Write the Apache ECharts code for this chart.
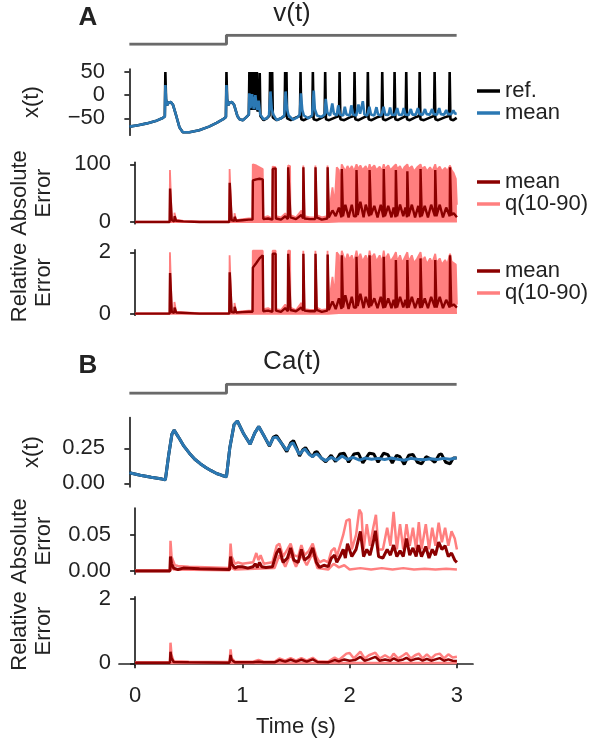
<!DOCTYPE html>
<html><head><meta charset="utf-8">
<script src="https://cdn.jsdelivr.net/npm/echarts@6/dist/echarts.min.js"></script>
<style>html,body{margin:0;padding:0;background:#fff}#c{width:590px;height:740px}</style>
</head><body><div id="c"></div>
<script>
// ---------------- data ----------------
const xTicks = [0, 1, 2, 3];
const vTicks = [-50, 0, 50];
const absTicksA = [0, 100];
const relTicks = [0, 2];
const caTicks = [0, 0.25];
const caAbsTicks = [0, 0.05];

const stepT = [0, 0.89, 0.89, 3];
const stepV = [0, 0, 1, 1];

const vRef = [[0,-68],[0.08,-65],[0.16,-61],[0.24,-56],[0.30,-50],[0.325,-46],[0.33,50],[0.336,-8],[0.345,-22],[0.36,-16],[0.38,-15],[0.40,-21],[0.43,-45],[0.46,-70],[0.49,-80],[0.55,-80],[0.64,-76],[0.73,-68],[0.80,-60],[0.86,-52],[0.885,-47],[0.89,50],[0.896,-8],[0.905,-22],[0.92,-16],[0.94,-15],[0.96,-21],[0.99,-45],
[1.01,-52],[1.04,-54],[1.07,-48],[1.095,-42],[1.10,50],[1.106,-32],[1.118,-28],[1.123,50],[1.129,-32],[1.141,-28],[1.146,50],[1.152,-32],[1.164,-28],[1.169,50],[1.175,-35],[1.19,-30],[1.195,48],[1.201,-45],[1.23,-54],[1.26,-50],[1.285,-44],[1.29,50],[1.296,-34],[1.305,-32],[1.309,50],[1.315,-48],[1.35,-54],[1.39,-50],[1.423,-45],[1.428,50],[1.434,-38],[1.44,50],[1.446,-50],[1.48,-54],[1.53,-48],[1.564,-45],[1.569,50],[1.576,-52],[1.60,-54],[1.65,-48],[1.677,-45],[1.682,50],[1.689,-52],[1.72,-54],[1.77,-48],[1.79,-45],[1.795,50],[1.802,-52],[1.83,-54],[1.89,-48],[1.922,-45],[1.927,50],[1.934,-52],[1.97,-54],[2.02,-48],[2.059,-45],[2.064,50],[2.071,-52],[2.10,-54],[2.15,-48],[2.181,-45],[2.186,50],[2.193,-52],[2.22,-54],[2.27,-48],[2.313,-45],[2.318,50],[2.325,-52],[2.35,-54],[2.40,-48],[2.426,-45],[2.431,50],[2.438,-52],[2.46,-54],[2.51,-48],[2.533,-45],[2.538,50],[2.545,-52],[2.57,-54],[2.62,-48],[2.656,-45],[2.661,50],[2.668,-52],[2.70,-54],[2.76,-48],[2.793,-45],[2.798,50],[2.805,-52],[2.83,-54],[2.89,-48],[2.931,-45],[2.936,50],[2.943,-52],[2.97,-54],[3.0,-49]];

const vMean = [[0,-68],[0.08,-65],[0.16,-61],[0.24,-56],[0.30,-50],[0.325,-46],[0.33,22],[0.336,-8],[0.345,-22],[0.36,-16],[0.38,-15],[0.40,-21],[0.43,-45],[0.46,-70],[0.49,-80],[0.55,-80],[0.64,-76],[0.73,-68],[0.80,-60],[0.86,-52],[0.885,-47],[0.89,22],[0.896,-8],[0.905,-22],[0.92,-16],[0.94,-15],[0.96,-21],[0.99,-45],
[1.01,-52],[1.04,-54],[1.07,-48],[1.095,-42],[1.10,4],[1.11,-28],[1.125,2],[1.14,-30],[1.155,0],[1.17,-32],[1.185,-12],[1.20,-42],[1.23,-52],[1.26,-50],[1.28,-44],[1.293,8],[1.305,-30],[1.32,-42],[1.35,-54],[1.39,-50],[1.42,-44],[1.432,8],[1.445,-30],[1.46,-44],[1.50,-53],[1.54,-48],[1.562,-42],[1.572,4],[1.585,-32],[1.60,-44],[1.64,-50],[1.675,-44],[1.69,10],[1.70,-30],[1.72,-44],[1.76,-47],[1.79,-42],[1.80,-8],[1.815,-38],[1.84,-44],[1.86,-18],[1.875,-40],[1.90,-44],[1.915,-22],[1.93,-42],[1.96,-44],[1.975,-25],[1.99,-42],[2.02,-44],[2.035,-22],[2.05,-42],[2.08,-44],[2.10,-20],[2.115,-40],[2.14,-13],[2.155,-42],[2.18,-44],[2.20,-25],[2.215,-42],[2.245,-44],[2.265,-26],[2.28,-42],[2.31,-44],[2.33,-25],[2.345,-42],[2.375,-43],[2.39,-27],[2.405,-42],[2.435,-43],[2.455,-28],[2.47,-42],[2.50,-43],[2.515,-28],[2.53,-42],[2.56,-43],[2.58,-30],[2.595,-42],[2.625,-42],[2.645,-28],[2.66,-41],[2.69,-42],[2.71,-30],[2.725,-41],[2.755,-42],[2.775,-30],[2.79,-41],[2.82,-42],[2.84,-28],[2.855,-41],[2.885,-42],[2.905,-32],[2.92,-41],[2.95,-41],[2.97,-33],[2.985,-40],[3.0,-39]];

const vAbsMean = [[0,0],[0.322,0],[0.326,58],[0.338,58],[0.342,3],[0.365,1],[0.368,10],[0.378,10],[0.382,2],[0.45,1],[0.6,0],[0.878,0],[0.882,68],[0.896,68],[0.9,3],[0.925,2],[0.928,9],[0.938,9],[0.942,2],[1.0,3],[1.06,4],[1.095,4],[1.098,72],[1.13,74],[1.16,75],[1.19,74],[1.195,5],[1.24,6],[1.28,4],[1.283,92],[1.31,93],[1.313,6],[1.36,4],[1.40,10],[1.424,5],[1.427,95],[1.445,95],[1.448,8],[1.50,5],[1.55,12],[1.566,6],[1.569,95],[1.575,95],[1.578,6],[1.63,5],[1.679,5],[1.682,95],[1.69,95],[1.693,8],[1.74,4],[1.792,6],[1.795,95],[1.803,95],[1.806,8],[1.84,20],[1.87,10],[1.90,25],[1.924,8],[1.927,92],[1.935,92],[1.938,10],[1.96,30],[1.99,8],[2.02,30],[2.04,10],[2.061,10],[2.064,90],[2.072,90],[2.075,12],[2.10,35],[2.13,8],[2.15,30],[2.183,10],[2.186,90],[2.196,90],[2.199,12],[2.23,28],[2.26,8],[2.29,30],[2.315,8],[2.318,92],[2.326,92],[2.329,10],[2.36,28],[2.39,8],[2.41,25],[2.428,8],[2.431,90],[2.439,90],[2.442,10],[2.47,30],[2.50,10],[2.52,25],[2.535,8],[2.538,88],[2.546,88],[2.549,10],[2.58,30],[2.61,8],[2.64,28],[2.658,8],[2.661,92],[2.669,92],[2.672,10],[2.70,28],[2.73,8],[2.76,30],[2.795,10],[2.798,90],[2.806,90],[2.809,10],[2.84,30],[2.87,8],[2.90,25],[2.933,10],[2.936,95],[2.944,95],[2.947,12],[2.97,15],[3.0,8]];

const vAbsQ90 = [[0,0.5],[0.322,0.5],[0.325,90],[0.338,88],[0.342,5],[0.365,3],[0.367,16],[0.38,15],[0.383,4],[0.45,2],[0.6,1],[0.878,1],[0.881,92],[0.895,90],[0.9,5],[0.925,4],[0.927,15],[0.94,14],[0.943,3],[1.0,5],[1.06,6],[1.094,6],[1.097,100],[1.13,98],[1.16,95],[1.19,92],[1.195,8],[1.24,10],[1.28,6],[1.282,96],[1.31,95],[1.313,10],[1.36,8],[1.40,15],[1.423,8],[1.426,98],[1.445,97],[1.448,12],[1.50,8],[1.55,20],[1.565,8],[1.568,98],[1.576,97],[1.58,10],[1.63,8],[1.678,8],[1.681,98],[1.69,97],[1.694,12],[1.74,8],[1.791,10],[1.794,98],[1.803,97],[1.806,15],[1.84,60],[1.86,30],[1.88,95],[1.90,90],[1.91,60],[1.926,100],[1.94,95],[1.96,88],[1.98,97],[2.0,90],[2.02,97],[2.04,88],[2.064,100],[2.08,92],[2.10,98],[2.12,90],[2.15,97],[2.17,88],[2.186,100],[2.20,92],[2.23,98],[2.25,90],[2.28,96],[2.30,88],[2.318,100],[2.33,92],[2.36,98],[2.38,90],[2.41,96],[2.431,100],[2.445,92],[2.47,97],[2.49,88],[2.51,95],[2.538,100],[2.55,92],[2.58,97],[2.60,88],[2.63,95],[2.661,100],[2.675,92],[2.70,96],[2.72,88],[2.75,95],[2.77,88],[2.798,100],[2.81,90],[2.84,96],[2.86,88],[2.89,94],[2.91,88],[2.936,98],[2.95,90],[2.97,85],[2.99,75],[3.0,30]];

const vAbsQ10 = [[0,0],[1.8,0],[1.9,1],[3.0,1]];

const vRelMean = [[0,0],[0.322,0],[0.326,1.32],[0.338,1.32],[0.342,0.05],[0.365,0.03],[0.368,0.2],[0.378,0.2],[0.382,0.04],[0.6,0],[0.878,0],[0.882,1.35],[0.896,1.35],[0.9,0.05],[0.925,0.04],[0.928,0.22],[0.938,0.22],[0.942,0.04],[1.0,0.05],[1.06,0.06],[1.095,0.06],[1.098,1.5],[1.13,1.65],[1.16,1.8],[1.19,1.9],[1.195,0.08],[1.24,0.1],[1.28,0.06],[1.283,1.95],[1.31,1.95],[1.313,0.1],[1.36,0.06],[1.40,0.18],[1.424,0.08],[1.427,1.95],[1.445,1.95],[1.448,0.12],[1.50,0.08],[1.55,0.2],[1.566,0.1],[1.569,1.95],[1.575,1.95],[1.578,0.1],[1.63,0.08],[1.679,0.08],[1.682,1.95],[1.69,1.95],[1.693,0.12],[1.74,0.06],[1.792,0.1],[1.795,1.93],[1.803,1.93],[1.806,0.12],[1.84,0.4],[1.87,0.15],[1.90,0.5],[1.924,0.15],[1.927,1.9],[1.935,1.9],[1.938,0.2],[1.96,0.6],[1.99,0.15],[2.02,0.55],[2.04,0.2],[2.061,0.2],[2.064,1.85],[2.072,1.85],[2.075,0.25],[2.10,0.65],[2.13,0.18],[2.15,0.55],[2.183,0.2],[2.186,1.9],[2.196,1.9],[2.199,0.25],[2.23,0.5],[2.26,0.18],[2.29,0.55],[2.315,0.18],[2.318,1.85],[2.326,1.85],[2.329,0.2],[2.36,0.5],[2.39,0.18],[2.41,0.45],[2.428,0.18],[2.431,1.75],[2.439,1.75],[2.442,0.2],[2.47,0.55],[2.50,0.2],[2.52,0.45],[2.535,0.18],[2.538,1.75],[2.546,1.75],[2.549,0.2],[2.58,0.55],[2.61,0.18],[2.64,0.5],[2.658,0.18],[2.661,1.8],[2.669,1.8],[2.672,0.2],[2.70,0.5],[2.73,0.18],[2.76,0.55],[2.795,0.2],[2.798,1.75],[2.806,1.75],[2.809,0.2],[2.84,0.55],[2.87,0.18],[2.90,0.45],[2.933,0.2],[2.936,1.9],[2.944,1.9],[2.947,0.25],[2.97,0.3],[3.0,0.2]];

const vRelQ90 = [[0,0.01],[0.322,0.01],[0.325,2.0],[0.338,1.95],[0.342,0.08],[0.365,0.05],[0.367,0.38],[0.38,0.36],[0.383,0.06],[0.6,0.02],[0.878,0.02],[0.881,1.9],[0.895,1.85],[0.9,0.08],[0.925,0.06],[0.927,0.35],[0.94,0.33],[0.943,0.05],[1.0,0.08],[1.06,0.1],[1.094,0.1],[1.097,2.05],[1.19,2.05],[1.195,0.15],[1.24,0.18],[1.28,0.1],[1.282,2.05],[1.31,2.05],[1.313,0.15],[1.36,0.12],[1.40,0.3],[1.423,0.12],[1.426,2.05],[1.445,2.05],[1.448,0.2],[1.50,0.12],[1.55,0.35],[1.565,0.12],[1.568,2.05],[1.576,2.05],[1.58,0.15],[1.63,0.12],[1.678,0.12],[1.681,2.05],[1.69,2.05],[1.694,0.2],[1.74,0.12],[1.791,0.15],[1.794,2.05],[1.803,2.05],[1.806,0.3],[1.84,1.2],[1.86,0.6],[1.88,2.0],[1.90,1.9],[1.91,0.5],[1.92,1.8],[1.927,2.05],[1.94,1.9],[1.96,1.7],[1.98,1.95],[2.0,1.75],[2.02,1.9],[2.04,1.65],[2.064,2.05],[2.08,1.75],[2.10,1.95],[2.12,1.7],[2.15,1.9],[2.17,1.65],[2.186,2.05],[2.20,1.8],[2.23,1.95],[2.25,1.7],[2.28,1.9],[2.30,1.65],[2.318,2.05],[2.33,1.75],[2.36,1.95],[2.38,1.7],[2.41,1.85],[2.431,2.0],[2.445,1.7],[2.47,1.9],[2.49,1.65],[2.51,1.8],[2.538,2.0],[2.55,1.7],[2.58,1.9],[2.60,1.65],[2.63,1.8],[2.661,2.0],[2.675,1.7],[2.70,1.85],[2.72,1.62],[2.75,1.8],[2.77,1.65],[2.798,1.95],[2.81,1.65],[2.84,1.8],[2.86,1.6],[2.89,1.75],[2.91,1.6],[2.936,1.95],[2.95,1.7],[2.97,1.65],[2.99,1.6],[3.0,0.3]];

const vRelQ10 = [[0,0],[1.8,0],[1.9,0.02],[3.0,0.02]];

const caRef = [[0,0.075],[0.1,0.058],[0.2,0.043],[0.3,0.03],[0.33,0.025],[0.36,0.2],[0.39,0.35],[0.41,0.38],[0.45,0.33],[0.5,0.265],[0.55,0.215],[0.6,0.172],[0.65,0.14],[0.7,0.113],[0.75,0.09],[0.8,0.07],[0.85,0.056],[0.89,0.047],[0.92,0.25],[0.96,0.42],[0.99,0.445],[1.05,0.35],[1.107,0.28],[1.15,0.36],[1.186,0.405],[1.24,0.33],[1.284,0.266],[1.32,0.33],[1.35,0.34],[1.40,0.28],[1.443,0.226],[1.48,0.29],[1.505,0.305],[1.535,0.25],[1.56,0.195],[1.59,0.24],[1.615,0.255],[1.65,0.21],[1.68,0.19],[1.70,0.22],[1.72,0.226],[1.76,0.18],[1.80,0.154],[1.85,0.2],[1.89,0.155],[1.93,0.21],[1.97,0.214],[2.01,0.15],[2.06,0.21],[2.10,0.214],[2.14,0.145],[2.20,0.215],[2.24,0.21],[2.28,0.15],[2.33,0.215],[2.37,0.205],[2.41,0.145],[2.45,0.2],[2.48,0.19],[2.52,0.135],[2.56,0.2],[2.60,0.205],[2.64,0.15],[2.68,0.14],[2.72,0.19],[2.76,0.175],[2.80,0.15],[2.84,0.205],[2.86,0.21],[2.90,0.15],[2.94,0.14],[2.97,0.18],[3.0,0.18]];

const caMean = [[0,0.075],[0.1,0.058],[0.2,0.043],[0.3,0.03],[0.33,0.025],[0.36,0.2],[0.39,0.35],[0.41,0.38],[0.45,0.33],[0.5,0.265],[0.55,0.215],[0.6,0.172],[0.65,0.14],[0.7,0.113],[0.75,0.09],[0.8,0.07],[0.85,0.056],[0.89,0.047],[0.92,0.25],[0.96,0.42],[0.99,0.445],[1.05,0.35],[1.107,0.28],[1.15,0.36],[1.186,0.405],[1.24,0.33],[1.284,0.27],[1.32,0.325],[1.35,0.33],[1.40,0.28],[1.443,0.235],[1.48,0.28],[1.50,0.29],[1.535,0.24],[1.56,0.205],[1.59,0.235],[1.61,0.245],[1.65,0.205],[1.68,0.19],[1.70,0.205],[1.72,0.21],[1.76,0.18],[1.80,0.162],[1.85,0.185],[1.90,0.165],[1.95,0.195],[2.0,0.17],[2.05,0.185],[2.11,0.166],[2.16,0.18],[2.22,0.172],[2.28,0.178],[2.34,0.17],[2.40,0.18],[2.46,0.172],[2.52,0.165],[2.58,0.178],[2.64,0.172],[2.70,0.168],[2.76,0.176],[2.82,0.17],[2.88,0.178],[2.94,0.172],[3.0,0.183]];

const caAbsMean = [[0,0],[0.325,0],[0.33,0.02],[0.34,0.01],[0.36,0.004],[0.4,0.002],[0.45,0.004],[0.6,0.003],[0.88,0.002],[0.89,0.02],[0.9,0.01],[0.93,0.004],[0.96,0.006],[1.0,0.006],[1.05,0.004],[1.1,0.006],[1.12,0.01],[1.14,0.005],[1.16,0.012],[1.18,0.006],[1.22,0.005],[1.28,0.006],[1.32,0.025],[1.345,0.031],[1.38,0.012],[1.42,0.018],[1.45,0.032],[1.48,0.015],[1.52,0.012],[1.55,0.03],[1.58,0.015],[1.62,0.02],[1.656,0.032],[1.69,0.012],[1.72,0.005],[1.76,0.008],[1.80,0.006],[1.83,0.018],[1.86,0.022],[1.88,0.012],[1.91,0.02],[1.94,0.03],[1.96,0.018],[1.98,0.038],[2.02,0.02],[2.06,0.03],[2.10,0.055],[2.13,0.02],[2.16,0.03],[2.19,0.022],[2.22,0.04],[2.24,0.056],[2.27,0.02],[2.31,0.018],[2.35,0.03],[2.38,0.022],[2.41,0.036],[2.44,0.02],[2.47,0.028],[2.50,0.02],[2.53,0.045],[2.56,0.022],[2.59,0.032],[2.62,0.02],[2.64,0.036],[2.67,0.02],[2.71,0.034],[2.74,0.018],[2.77,0.03],[2.80,0.022],[2.83,0.04],[2.86,0.03],[2.89,0.035],[2.92,0.02],[2.95,0.025],[2.98,0.015],[3.0,0.012]];

const caAbsQ90 = [[0,0.001],[0.325,0.001],[0.33,0.042],[0.34,0.02],[0.37,0.008],[0.4,0.007],[0.5,0.006],[0.88,0.004],[0.89,0.038],[0.9,0.02],[0.93,0.01],[0.96,0.012],[1.0,0.01],[1.1,0.012],[1.13,0.025],[1.15,0.015],[1.17,0.022],[1.2,0.01],[1.28,0.012],[1.32,0.035],[1.345,0.038],[1.38,0.02],[1.42,0.03],[1.45,0.038],[1.48,0.022],[1.52,0.02],[1.55,0.036],[1.58,0.022],[1.62,0.028],[1.656,0.038],[1.69,0.02],[1.72,0.012],[1.76,0.015],[1.80,0.012],[1.83,0.028],[1.86,0.032],[1.88,0.02],[1.91,0.035],[1.94,0.05],[1.97,0.07],[2.0,0.072],[2.02,0.03],[2.06,0.05],[2.09,0.085],[2.11,0.08],[2.13,0.03],[2.16,0.065],[2.19,0.035],[2.22,0.06],[2.245,0.078],[2.27,0.03],[2.31,0.03],[2.35,0.06],[2.38,0.035],[2.41,0.082],[2.44,0.03],[2.47,0.065],[2.50,0.03],[2.53,0.065],[2.56,0.035],[2.59,0.06],[2.62,0.03],[2.645,0.068],[2.67,0.03],[2.71,0.065],[2.74,0.03],[2.77,0.06],[2.80,0.035],[2.83,0.067],[2.86,0.04],[2.89,0.06],[2.92,0.035],[2.95,0.055],[2.98,0.045],[3.0,0.03]];

const caAbsQ10 = [[0,0],[0.325,0],[0.33,0.005],[0.36,0.002],[0.88,0.001],[0.89,0.005],[0.93,0.002],[1.3,0.004],[1.345,0.022],[1.40,0.006],[1.45,0.024],[1.50,0.006],[1.55,0.022],[1.60,0.008],[1.656,0.025],[1.70,0.004],[1.8,0.002],[1.85,0.01],[1.9,0.005],[1.95,0.008],[2.0,0.002],[2.1,0.004],[2.2,0.002],[2.3,0.004],[2.4,0.002],[2.5,0.004],[2.6,0.002],[2.7,0.003],[2.8,0.002],[2.9,0.003],[3.0,0.002]];

const caRelMean = [[0,0.02],[0.325,0.02],[0.33,0.36],[0.34,0.15],[0.36,0.04],[0.5,0.03],[0.88,0.02],[0.89,0.26],[0.9,0.1],[0.93,0.03],[1.0,0.03],[1.1,0.03],[1.15,0.05],[1.2,0.03],[1.3,0.03],[1.345,0.1],[1.40,0.05],[1.45,0.11],[1.50,0.05],[1.55,0.11],[1.60,0.05],[1.656,0.12],[1.70,0.04],[1.80,0.03],[1.86,0.1],[1.9,0.06],[1.95,0.12],[2.0,0.08],[2.05,0.1],[2.10,0.2],[2.14,0.08],[2.18,0.12],[2.24,0.2],[2.28,0.08],[2.33,0.12],[2.38,0.08],[2.41,0.15],[2.45,0.08],[2.5,0.12],[2.53,0.17],[2.57,0.08],[2.61,0.13],[2.645,0.15],[2.68,0.08],[2.72,0.14],[2.76,0.08],[2.80,0.12],[2.84,0.16],[2.88,0.08],[2.92,0.12],[2.96,0.08],[3.0,0.07]];

const caRelQ90 = [[0,0.03],[0.325,0.03],[0.33,0.64],[0.34,0.25],[0.36,0.06],[0.5,0.05],[0.88,0.04],[0.89,0.43],[0.9,0.15],[0.93,0.05],[1.1,0.05],[1.15,0.1],[1.2,0.05],[1.3,0.05],[1.345,0.15],[1.40,0.08],[1.45,0.16],[1.50,0.08],[1.55,0.16],[1.60,0.08],[1.656,0.17],[1.70,0.06],[1.80,0.05],[1.86,0.18],[1.9,0.1],[1.97,0.3],[2.0,0.32],[2.04,0.15],[2.10,0.36],[2.14,0.15],[2.18,0.25],[2.24,0.33],[2.28,0.15],[2.33,0.25],[2.38,0.15],[2.41,0.3],[2.45,0.15],[2.5,0.25],[2.53,0.32],[2.57,0.15],[2.61,0.25],[2.645,0.3],[2.68,0.15],[2.72,0.28],[2.76,0.15],[2.80,0.27],[2.84,0.3],[2.88,0.15],[2.92,0.28],[2.96,0.18],[3.0,0.2]];

const caRelQ10 = [[0,0.005],[1.3,0.005],[1.5,0.01],[2.0,0.005],[3.0,0.01]];

// ---------------- styling ----------------
const FONT = "'Liberation Sans', Arial, sans-serif";
const TXT = '#222222';
const BLACK = '#000000', BLUE = '#2b78b3', DARK = '#8b0000', LIGHT = '#ff7f7f', GRAY = '#6a6a6a';
const FS = 22;

const grids = [
  {top: 35.3, height: 9},      // 0 step A
  {top: 69.0, height: 66.2},   // 1 v(t)
  {top: 162.3, height: 61.4},  // 2 abs A
  {top: 249.8, height: 65.4},  // 3 rel A
  {top: 384.3, height: 9},     // 4 step B
  {top: 417.5, height: 69.3},  // 5 Ca
  {top: 508.1, height: 66.0},  // 6 abs B
  {top: 596.8, height: 68.4}   // 7 rel B
].map(g => Object.assign({left: 113, width: 360}, g));

const minus = s => String(s).replace('-', '\u2212');

function yAx(i, min, max, ticks, fmt, name, gap) {
  const show = ticks !== null;
  return {
    type: 'value', gridIndex: i, min: min, max: max, show: show,
    splitLine: {show: false},
    axisLine: {show: show, lineStyle: {color: TXT, width: 1.7}},
    axisTick: {show: show, length: 5, customValues: ticks || [], lineStyle: {color: TXT, width: 1.7}},
    axisLabel: {show: show, customValues: ticks || [], margin: 8, fontSize: FS, fontFamily: FONT, color: TXT, formatter: fmt},
    name: name || '', nameLocation: 'middle', nameRotate: 90, nameGap: gap || 60,
    nameTextStyle: {fontSize: FS, fontFamily: FONT, color: TXT, lineHeight: 24, align: 'center'}
  };
}

const xAxes = grids.map((g, i) => ({
  type: 'value', gridIndex: i, min: -0.15, max: 3.15, show: i === 7,
  splitLine: {show: false},
  offset: 7,
  axisLine: {show: true, lineStyle: {color: TXT, width: 1.7}},
  axisTick: {show: true, length: 5, customValues: xTicks, lineStyle: {color: TXT, width: 1.7}},
  axisLabel: {customValues: xTicks, margin: 13, fontSize: FS, fontFamily: FONT, color: TXT},
  name: 'Time (s)', nameLocation: 'middle', nameGap: 44,
  nameTextStyle: {fontSize: FS, fontFamily: FONT, color: TXT}
}));

const f0 = v => minus(v);
const f2 = v => Number(v).toFixed(2);

const yAxes = [
  yAx(0, 0, 1, null),
  yAx(1, -86.5, 56.5, vTicks, f0, 'x(t)', 69),
  yAx(2, -3, 103.5, absTicksA, f0, 'Absolute\nError', 63),
  yAx(3, -0.05, 2.08, relTicks, f0, 'Relative\nError', 63),
  yAx(4, 0, 1, null),
  yAx(5, -0.025, 0.47, caTicks, f2, 'x(t)', 69),
  yAx(6, -0.0043, 0.0873, caAbsTicks, f2, 'Absolute\nError', 63),
  yAx(7, -0.06, 2.07, relTicks, f0, 'Relative\nError', 63)
];

function ln(name, gi, data, color, width, extra) {
  return Object.assign({
    type: 'line', name: name, xAxisIndex: gi, yAxisIndex: gi, data: data,
    showSymbol: false, symbol: 'none', animation: false, silent: true,
    color: color, itemStyle: {color: color},
    lineStyle: {color: color, width: width}, z: 2
  }, extra || {});
}

const stepData = stepT.map((t, i) => [t, stepV[i]]);

const series = [
  ln('stepA', 0, stepData, GRAY, 3),
  ln('ref.', 1, vRef, BLACK, 2.6),
  ln('mean', 1, vMean, BLUE, 2.6, {z: 3}),
  ln('q(10-90)', 2, vAbsQ90, LIGHT, 1.8, {areaStyle: {color: LIGHT, opacity: 1, origin: 0}}),
  ln('q10a', 2, vAbsQ10, LIGHT, 2),
  ln('mean ', 2, vAbsMean, DARK, 2.4, {z: 3}),
  ln('q(10-90) ', 3, vRelQ90, LIGHT, 1.8, {areaStyle: {color: LIGHT, opacity: 1, origin: 0}}),
  ln('q10r', 3, vRelQ10, LIGHT, 2),
  ln('mean  ', 3, vRelMean, DARK, 2.4, {z: 3}),
  ln('stepB', 4, stepData, GRAY, 3),
  ln('caref', 5, caRef, BLACK, 3),
  ln('camean', 5, caMean, BLUE, 3, {z: 3}),
  ln('caq90', 6, caAbsQ90, LIGHT, 2.5),
  ln('caq10', 6, caAbsQ10, LIGHT, 2.5),
  ln('caabs', 6, caAbsMean, DARK, 3, {z: 3}),
  ln('crq90', 7, caRelQ90, LIGHT, 2.5),
  ln('crq10', 7, caRelQ10, LIGHT, 2.5),
  ln('crmean', 7, caRelMean, DARK, 2.5, {z: 3})
];

function lg(top, names) {
  return {
    left: 477, top: top, orient: 'vertical', itemGap: 0, padding: 0,
    itemWidth: 23, itemHeight: 3.5, icon: 'rect', selectedMode: false,
    data: names, formatter: n => n.trim(),
    textStyle: {fontSize: FS, fontFamily: FONT, color: TXT, lineHeight: 21, padding: [0, 0, 0, 0]}
  };
}

const chart = echarts.init(document.getElementById('c'), null, {renderer: 'canvas'});
chart.setOption({
  animation: false,
  backgroundColor: '#ffffff',
  grid: grids, xAxis: xAxes, yAxis: yAxes, series: series,
  legend: [lg(80, ['ref.', 'mean']), lg(171, ['mean ', 'q(10-90)']), lg(260, ['mean  ', 'q(10-90) '])],
  graphic: [
    {type: 'text', x: 88, y: 18, style: {text: 'A', fontSize: 26, fontWeight: 'bold', fontFamily: FONT, fill: TXT, align: 'center', verticalAlign: 'middle'}},
    {type: 'text', x: 88, y: 365.5, style: {text: 'B', fontSize: 26, fontWeight: 'bold', fontFamily: FONT, fill: TXT, align: 'center', verticalAlign: 'middle'}},
    {type: 'text', x: 292, y: 14, style: {text: 'v(t)', fontSize: 26, fontFamily: FONT, fill: TXT, align: 'center', verticalAlign: 'middle'}},
    {type: 'text', x: 292, y: 362, style: {text: 'Ca(t)', fontSize: 26, fontFamily: FONT, fill: TXT, align: 'center', verticalAlign: 'middle'}}
  ]
});
</script></body></html>
